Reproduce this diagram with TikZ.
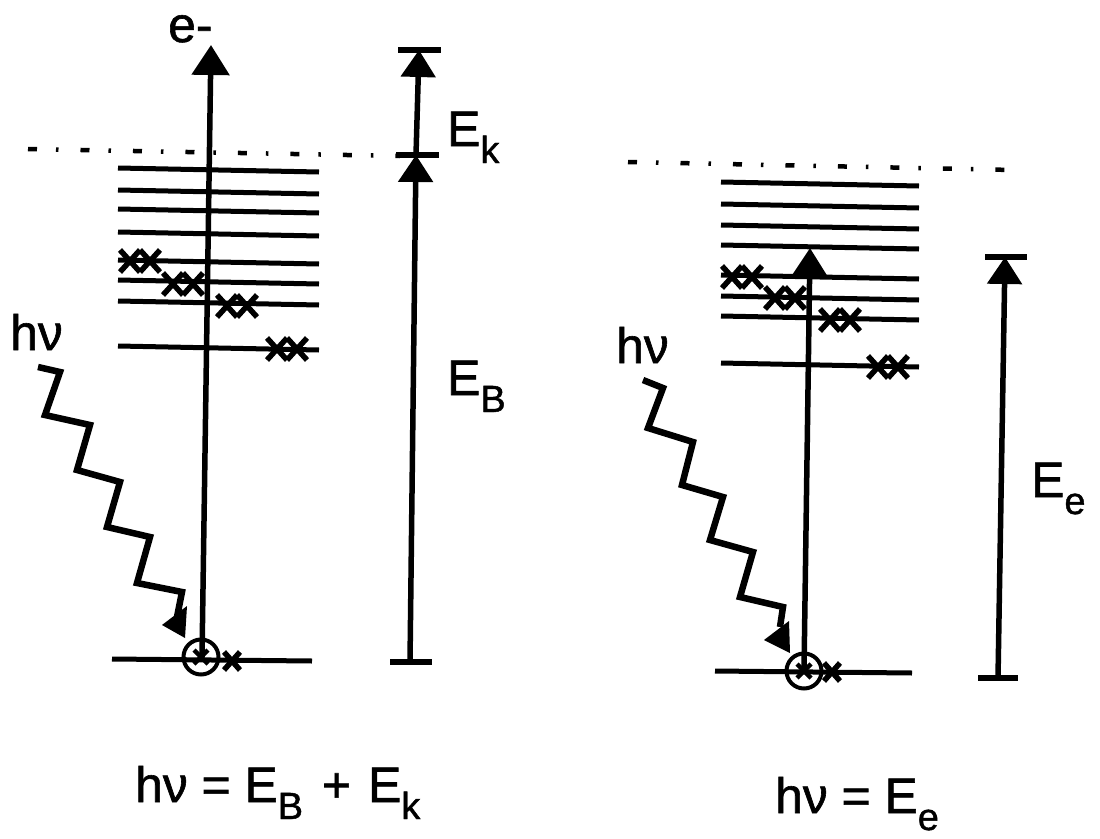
\documentclass[tikz,border=0pt]{standalone}
\usepackage{fontspec}
\setmainfont{Liberation Sans}[FakeBold=1.2]
\usetikzlibrary{arrows.meta}
\newcommand\lowsub[1]{\raisebox{-17bp}{\fontsize{38}{38}\selectfont #1}}
\begin{document}
\begin{tikzpicture}[x=1bp,y=-1bp,
  level/.style={line width=5bp},
  shaft/.style={line width=5.5bp},
  tick/.style={line width=6.5bp},
  wave/.style={line width=6.5bp, line join=miter},
  crossln/.style={line width=5.5bp},
  dotline/.style={line width=4.5bp, dash pattern=on 9bp off 19bp on 2.5bp off 22bp},
  lbl/.style={inner sep=0pt, anchor=base west, font=\fontsize{50}{50}\selectfont},
  bigtip/.style={-{Triangle[length=30bp,width=37bp]}},
  bartip/.style={-{Triangle[length=27bp,width=34bp]}},
  xx/.pic={\draw[crossln] (-20,-11)--(0,11) (-20,11)--(0,-11) (0,-11)--(20,11) (0,11)--(20,-11);},
  onex/.pic={\draw[line width=5.5bp] (-8,-9)--(8,9) (-8,9)--(8,-9);},
  ring/.style={circle, draw, line width=4bp, minimum size=35bp, inner sep=0pt}
]
\useasboundingbox (0,0) rectangle (1100,839);

% ---------------- LEFT PANEL ----------------
\draw[dotline] (28,149) -- (400,156);
\foreach \yy in {170,192,211,234,262,282,303,348}
  \draw[level] (118,\yy-2) -- (319,\yy+2);
\draw[level] (112,659) -- (312,661);
% xx marks
\pic at (140,261) {xx};
\pic at (183,284) {xx};
\pic at (237,306) {xx};
\pic at (287,349) {xx};
% circled core electron
\node[ring] (c1) at (201,657) {};
\draw[line width=4.5bp] (194,650)--(208,664) (194,664)--(208,650);
\pic at (232,661) {onex};
% main arrow
\coordinate (a1s) at (202,657);
\coordinate (a1t) at (211,45);
\draw[shaft,bigtip] (a1s) -- (a1t);
% energy bar
\coordinate (b1b) at (410,662);
\coordinate (b1m) at (416,155);
\coordinate (b1t) at (419,50);
\draw[shaft,bartip] (b1b) -- (b1m);
\draw[shaft,bartip] (b1m) -- (b1t);
\draw[tick] (398,50) -- (441,50);
\draw[tick] (396,155) -- (439,155);
\draw[tick] (390,662) -- (432,662);
% photon
\draw[wave] (38,367)--(60,372)--(45,415)--(90,425)--(77,470)--(120,482)--(107,527)--(150,537)--(137,583)--(182,592)--(177,617);
\fill (162,625)--(187,606)--(185,638)--cycle;
% labels
\node[lbl] (em) at (168,42) {e-};
\node[lbl] (Ek) at (447,146) {E\lowsub{k}};
\node[lbl] (EB) at (447,395) {E\lowsub{B}};
\node[lbl] (hv1) at (10,350) {hν};
\node[lbl] (eq1) at (135,802) {hν = E\lowsub{B}\hspace{19bp}+\hspace{17bp}E\lowsub{k}};

% ---------------- RIGHT PANEL ----------------
\draw[dotline] (628,162) -- (1013,170);
\foreach \yy in {184,206,227,247,277,298,318,365}
  \draw[level] (721,\yy-2) -- (919,\yy+2);
\draw[level] (715,671) -- (912,673);
\pic at (742,277) {xx};
\pic at (785,298) {xx};
\pic at (840,320) {xx};
\pic at (888,367) {xx};
\node[ring] (c2) at (804,671) {};
\draw[line width=4.5bp] (797,664)--(811,678) (797,678)--(811,664);
\pic at (832,672) {onex};
\coordinate (a2s) at (804,671);
\coordinate (a2t) at (810,248);
\draw[shaft,bigtip] (a2s) -- (a2t);
\coordinate (b2b) at (998,678);
\coordinate (b2t) at (1005,257);
\draw[shaft,bartip] (b2b) -- (b2t);
\draw[tick] (985,257) -- (1027,257);
\draw[tick] (978,678) -- (1018,678);
\draw[wave] (643,380)--(663,388)--(648,428)--(693,442)--(682,485)--(723,497)--(710,540)--(753,552)--(740,597)--(783,607)--(780,627);
\fill (764,640)--(789,621)--(790,653)--cycle;
\node[lbl] (hv2) at (616,363) {hν};
\node[lbl] (Ee) at (1031,497) {E\lowsub{e}};
\node[lbl] (eq2) at (775,813) {hν = E\lowsub{e}};
\end{tikzpicture}
\end{document}
